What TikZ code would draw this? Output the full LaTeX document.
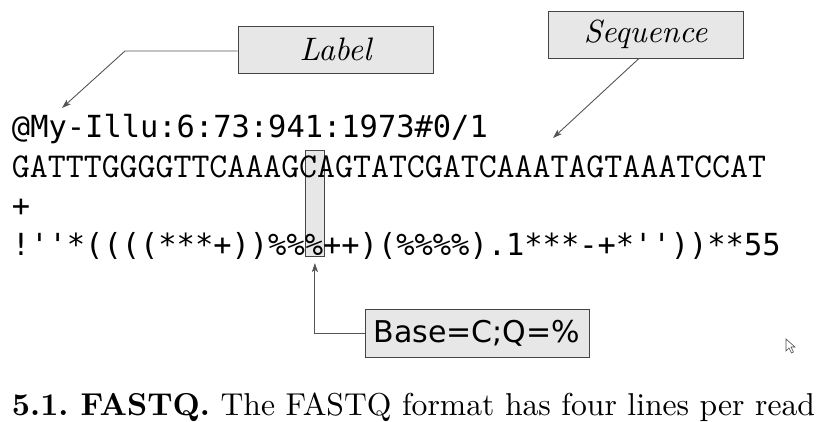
\documentclass[tikz,border=0pt]{standalone}
\usepackage{fontspec}
\usetikzlibrary{arrows.meta}
\newfontfamily\sansmono[Ligatures=TeXOff]{DejaVu Sans Mono}
\newfontfamily\dvsans{DejaVu Sans}
\definecolor{boxfill}{HTML}{E6E7E6}
\definecolor{boxline}{HTML}{444444}
\definecolor{connline}{HTML}{555555}
\tikzset{
  tagbox/.style={draw=boxline, fill=boxfill, line width=0.9pt, inner sep=0pt},
  seqline/.style={anchor=base west, inner sep=0pt, outer sep=0pt},
  conn/.style={draw=connline, line width=0.9pt, -{Stealth[length=9pt,width=6pt,inset=2pt]}},
}
\begin{document}
\begin{tikzpicture}[x=1pt,y=-1pt]
\useasboundingbox (0,0) rectangle (818,422);
% highlighted column
\node[tagbox, minimum width=18.8pt, minimum height=106.5pt] (hl) at (314.9,203.25) {};
% text lines
\node[seqline] (linea) at (12,137.5) {\fontsize{30.4}{36}\sansmono @My-Illu:6:73:941:1973\#0/1};
\node[seqline] (lineb) at (12,177) {\fontsize{34.86}{40}\selectfont\ttfamily GATTTGGGGTTCAAAGCAGTATCGATCAAATAGTAAATCCAT};
\node[seqline] (linec) at (12,216) {\fontsize{30.4}{36}\sansmono +};
\node[seqline] (lined) at (12,255.5) {\fontsize{30.4}{36}\sansmono !''*((((***+))\%\%\%++)(\%\%\%\%).1***-+*''))**55};
% callout boxes
\node[tagbox, minimum width=195pt, minimum height=47pt] (lab) at (335.5,49.5) {\scalebox{3.25}{\normalsize\itshape Label}};
\node[tagbox, minimum width=195pt, minimum height=47pt] (seq) at (645.5,34.5) {\scalebox{3.2}{\normalsize\itshape Sequence}};
\node[tagbox, minimum width=224pt, minimum height=48pt] (base) at (477,333) {\fontsize{30}{36}\dvsans Base=C;Q=\%};
% connectors
\coordinate (labbend) at (125,51);
\coordinate (labtip) at (62,108);
\coordinate (seqtip) at (553,138);
\coordinate (basebend) at (314.9,333);
\coordinate (basetip) at (314.9,263);
\draw[conn] (lab.west |- labbend) -- (labbend) -- (labtip);
\draw[conn] (seq.south -| 639,0) -- (seqtip);
\draw[conn] (base.west) -- (basebend) -- (basetip);
% caption
\node[seqline] (caption) at (12,415) {\resizebox{803pt}{!}{\normalsize\frenchspacing\textbf{5.1. FASTQ.} The FASTQ format has four lines per read}};
% mouse pointer
\draw[draw=black!70, fill=white, line width=0.6pt] (786,339) -- (786,351) -- (789,348) -- (791.5,353) -- (793.5,352) -- (791,347) -- (795,347) -- cycle;
\end{tikzpicture}
\end{document}
